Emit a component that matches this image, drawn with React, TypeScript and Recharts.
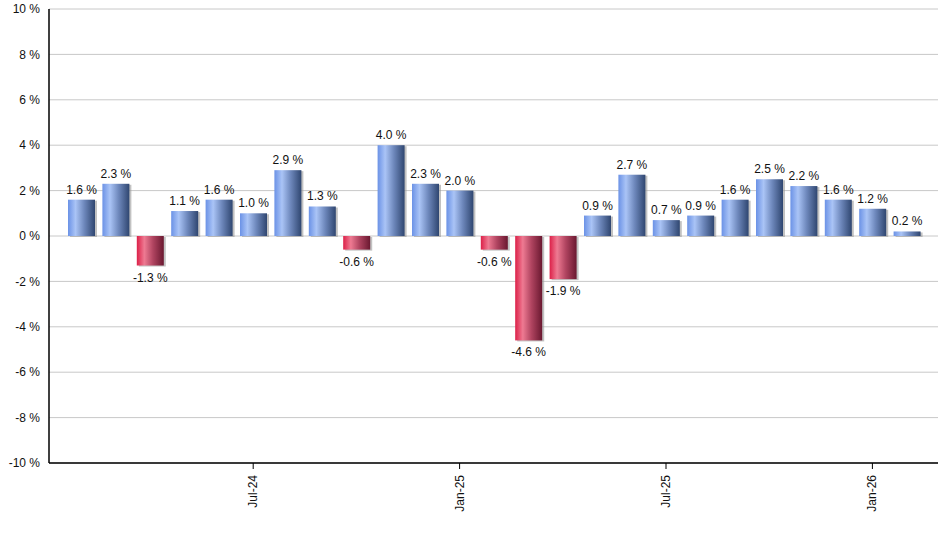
import React from 'react'
import { BarChart, Bar, XAxis, YAxis, CartesianGrid, LabelList } from 'recharts'

const months = [
  'Feb-24', 'Mar-24', 'Apr-24', 'May-24', 'Jun-24', 'Jul-24', 'Aug-24', 'Sep-24', 'Oct-24', 'Nov-24',
  'Dec-24', 'Jan-25', 'Feb-25', 'Mar-25', 'Apr-25', 'May-25', 'Jun-25', 'Jul-25', 'Aug-25', 'Sep-25',
  'Oct-25', 'Nov-25', 'Dec-25', 'Jan-26', 'Feb-26',
]
const changes = [
  1.6, 2.3, -1.3, 1.1, 1.6, 1.0, 2.9, 1.3, -0.6, 4.0,
  2.3, 2.0, -0.6, -4.6, -1.9, 0.9, 2.7, 0.7, 0.9, 1.6,
  2.5, 2.2, 1.6, 1.2, 0.2,
]
const xTicks = ['Jul-24', 'Jan-25', 'Jul-25', 'Jan-26']
const yTicks = [-10, -8, -6, -4, -2, 0, 2, 4, 6, 8, 10]

const data = months.map((month, i) => ({ month, v: changes[i] }))

const FONT = 'Arial, "Liberation Sans", sans-serif'

const BarShape = (props: any) => {
  const { x, y, width, height, value } = props
  const top = Math.min(y, y + height)
  const h = Math.abs(height)
  const fill = value < 0 ? 'url(#redGrad)' : 'url(#blueGrad)'
  return (
    <g>
      <rect x={x + 2} y={top + 1} width={width} height={h} fill="#9a9a9a" opacity={0.6} />
      <rect x={x} y={top} width={width} height={h} fill={fill} />
    </g>
  )
}

const ValueLabel = (props: any) => {
  const { x, y, width, height, value } = props
  const top = Math.min(y, y + height)
  const bottom = Math.max(y, y + height)
  const ty = value < 0 ? bottom + 16 : top - 6
  return (
    <text x={x + width / 2} y={ty} textAnchor="middle" fontSize={12} fontFamily={FONT} fill="#111">
      {`${value.toFixed(1)} %`}
    </text>
  )
}

const XTick = (props: any) => {
  const { x, y, payload } = props
  return (
    <text
      x={0}
      y={0}
      transform={`translate(${x + 4}, ${y + 4}) rotate(-90)`}
      textAnchor="end"
      fontSize={12}
      fontFamily={FONT}
      fill="#111"
    >
      {payload.value}
    </text>
  )
}

export default function App() {
  return (
    <div style={{ position: 'absolute', left: 0, top: 0, background: '#fff' }}>
      <BarChart width={940} height={550} data={data} margin={{ top: 9, right: 2, bottom: 0, left: 0 }} barSize={27}>
        <defs>
          <linearGradient id="blueGrad" x1="0" y1="0" x2="1" y2="0">
            <stop offset="0%" stopColor="#6b92e6" />
            <stop offset="28%" stopColor="#aac4f6" />
            <stop offset="60%" stopColor="#6e88bc" />
            <stop offset="100%" stopColor="#2f4670" />
          </linearGradient>
          <linearGradient id="redGrad" x1="0" y1="0" x2="1" y2="0">
            <stop offset="0%" stopColor="#dc2048" />
            <stop offset="28%" stopColor="#ee7a92" />
            <stop offset="60%" stopColor="#b04460" />
            <stop offset="100%" stopColor="#6a1830" />
          </linearGradient>
        </defs>
        <CartesianGrid vertical={false} stroke="#c8c8c8" strokeWidth={1} />
        <XAxis
          dataKey="month"
          ticks={xTicks}
          interval={0}
          padding={{ left: 15, right: 14 }}
          height={87}
          axisLine={{ stroke: '#000', strokeWidth: 1.5 }}
          tickLine={{ stroke: '#000' }}
          tickSize={6}
          tick={<XTick />}
        />
        <YAxis
          domain={[-10, 10]}
          ticks={yTicks}
          width={49}
          allowDataOverflow
          axisLine={{ stroke: '#000', strokeWidth: 1.5 }}
          tickLine={false}
          tickMargin={3}
          tickFormatter={(v: number) => `${v} %`}
          tick={{ fontSize: 12, fontFamily: FONT, fill: '#111' }}
        />
        <Bar dataKey="v" shape={<BarShape />} isAnimationActive={false}>
          <LabelList dataKey="v" content={<ValueLabel />} />
        </Bar>
      </BarChart>
    </div>
  )
}
